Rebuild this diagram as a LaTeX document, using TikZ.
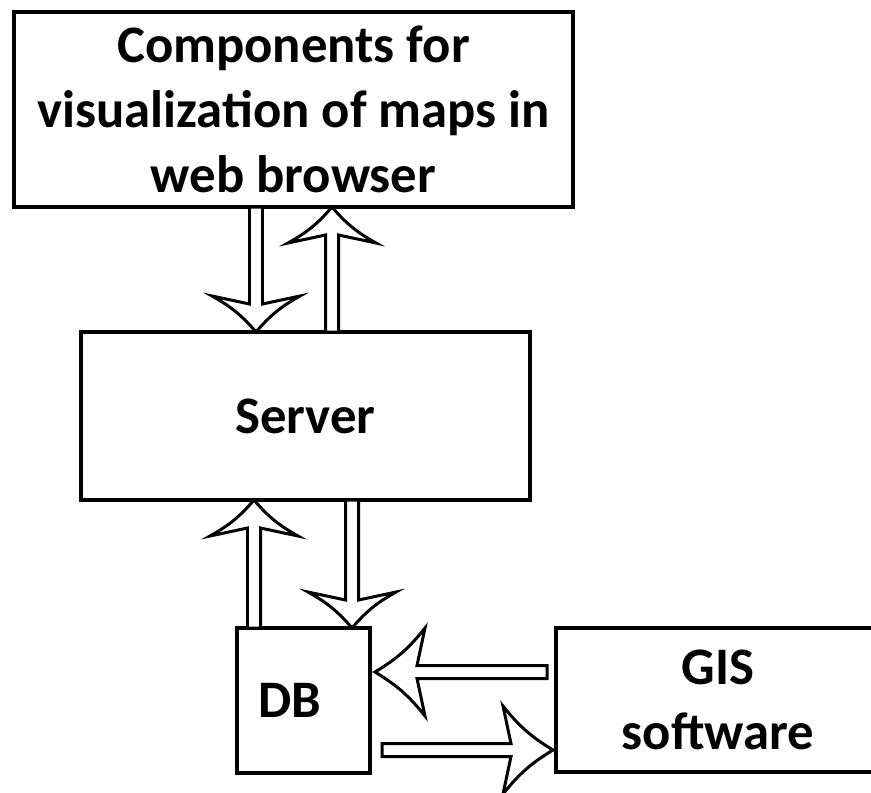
\documentclass[tikz,border=0pt]{standalone}
\usepackage{fontspec}
\setmainfont{Carlito}
\usepackage{tikz}
\usetikzlibrary{positioning, calc}

% hollow block arrow from #2 (tail) to #3 (tip), #1 = head length
\newcommand{\blockarrow}[3][0.72cm]{%
  \coordinate (hb) at ($(#3)!#1!(#2)$);
  \coordinate (hj) at ($(hb)!0.16cm!(#3)$);
  \draw[hollow] ($(#2)!0.13cm!90:(#3)$) -- ($(hj)!0.13cm!90:(#3)$)
    -- ($(hb)!0.88cm!90:(#3)$) to[bend right=10] (#3)
    to[bend right=10] ($(hb)!0.88cm!-90:(#3)$)
    -- ($(hj)!0.13cm!-90:(#3)$) -- ($(#2)!0.13cm!-90:(#3)$) -- cycle;
}

\begin{document}
\begin{tikzpicture}[
      box/.style={rectangle, draw=black, line width=2.2pt, fill=white, align=center, inner sep=0pt, outer sep=0pt,
        font=\fontsize{30}{37}\selectfont\bfseries},
      hollow/.style={draw=black, line width=1.7pt, fill=white, line join=miter}
    ]
      \useasboundingbox (0,0) rectangle (17.42,-15.84);

      \node[box, minimum width=11.18cm, minimum height=3.9cm] (comp) at (5.87,-2.19)
        {Components for\\visualization of maps in\\web browser};
      \node[box, minimum width=8.98cm, minimum height=3.36cm] (server) at (6.11,-8.32) {Server};
      \node[box, minimum width=2.66cm, minimum height=2.9cm] (db) at (6.07,-14.01) {DB\hspace{0.56cm}};
      \node[box, minimum width=6.48cm, minimum height=2.88cm] (gis) at (14.36,-14.0) {GIS\\software};

      % browser <-> server
      \coordinate (c1) at ($(comp.south)+(-0.75,0)$);
      \coordinate (s1) at ($(server.north)+(-0.99,0)$);
      \coordinate (s2) at ($(server.north)+(0.53,0)$);
      \coordinate (c2) at ($(comp.south)+(0.77,0)$);
      \blockarrow{c1}{s1}
      \blockarrow{s2}{c2}

      % server <-> db
      \coordinate (d1) at ($(db.north)+(-0.99,0)$);
      \coordinate (s3) at ($(server.south)+(-1.03,0)$);
      \coordinate (s4) at ($(server.south)+(0.93,0)$);
      \coordinate (d2) at ($(db.north)+(0.97,0)$);
      \blockarrow{d1}{s3}
      \blockarrow{s4}{d2}

      % gis <-> db
      \coordinate (g1) at ($(gis.west)+(-0.18,0.56)$);
      \coordinate (d3) at ($(db.east)+(0.1,0.57)$);
      \coordinate (d4) at ($(db.east)+(0.24,-0.99)$);
      \coordinate (g2) at ($(gis.west)+(-0.06,-1.0)$);
      \blockarrow[1.0cm]{g1}{d3}
      \blockarrow[1.0cm]{d4}{g2}
    \end{tikzpicture}
\end{document}
